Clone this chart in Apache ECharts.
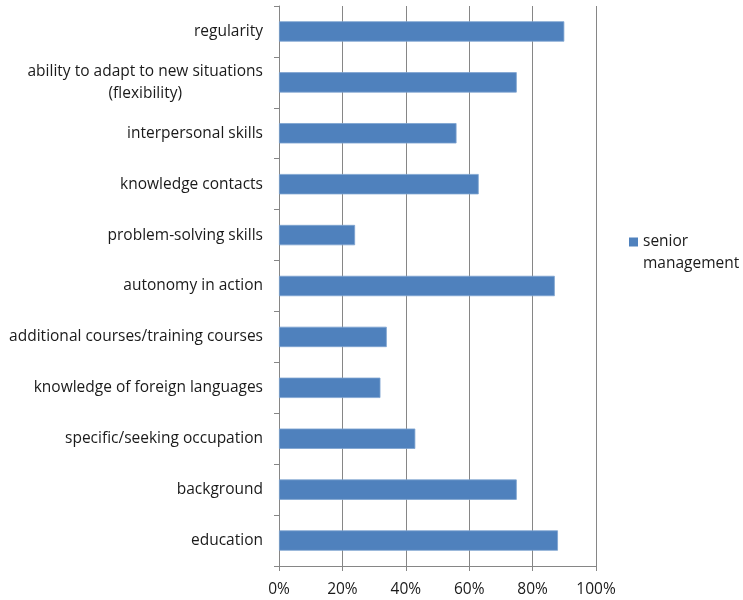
<!DOCTYPE html>
<html>
<head>
<meta charset="utf-8">
<script src="https://cdn.jsdelivr.net/npm/echarts@6/dist/echarts.min.js"></script>
<style>
  html, body { margin: 0; padding: 0; background: #fff; }
  #chart { width: 743px; height: 600px; }
</style>
</head>
<body>
<div id="chart"></div>
<script>
// Categories listed bottom to top (category axis starts at the bottom)
const categories = [
  'education',
  'background',
  'specific/seeking occupation',
  'knowledge of foreign languages',
  'additional courses/training courses',
  'autonomy in action',
  'problem-solving skills',
  'knowledge contacts',
  'interpersonal skills',
  'ability to adapt to new situations\n(flexibility)',
  'regularity'
];
const seniorManagement = [88, 75, 43, 32, 34, 87, 24, 63, 56, 75, 90];
const seriesName = 'senior management';
const xTicks = { min: 0, max: 100, interval: 20 };

const FONT = '"Open Sans", Lato, sans-serif';
const TEXT = '#1a1a1a';
const FS = 15.5;
const chart = echarts.init(document.getElementById('chart'));
chart.setOption({
  animation: false,
  textStyle: { fontFamily: FONT },
  grid: { left: 279, right: 147, top: 6, bottom: 34, containLabel: false },
  legend: {
    data: [seriesName],
    left: 629, top: 209, padding: 0,
    itemWidth: 9, itemHeight: 9,
    icon: 'rect',
    itemStyle: { borderWidth: 0 },
    // a blank first line keeps the swatch level with "senior"
    formatter: name => '{s| }\n{s|senior}\n{s|management}',
    textStyle: {
      fontFamily: FONT, fontSize: FS, color: TEXT, lineHeight: 22,
      rich: { s: { fontFamily: FONT, fontSize: FS, color: TEXT, lineHeight: 22 } }
    }
  },
  xAxis: {
    type: 'value',
    min: xTicks.min, max: xTicks.max, interval: xTicks.interval,
    axisLine: { show: true, lineStyle: { color: '#868686' } },
    axisTick: { show: true, length: 5, lineStyle: { color: '#868686' } },
    splitLine: { show: true, lineStyle: { color: '#868686', width: 1 } },
    axisLabel: {
      formatter: v => v + '%',
      fontFamily: FONT, fontSize: FS, color: TEXT, margin: 16
    }
  },
  yAxis: {
    type: 'category',
    data: categories,
    axisLine: { show: true, lineStyle: { color: '#868686' } },
    axisTick: { show: true, length: 5, alignWithLabel: false, lineStyle: { color: '#868686' } },
    axisLabel: {
      fontFamily: FONT, fontSize: FS, color: TEXT, margin: 16, lineHeight: 22,
      formatter: v => v.split('\n').map(s => '{c|' + s + '}').join('\n'),
      rich: { c: { align: 'center', fontFamily: FONT, fontSize: FS, color: TEXT, lineHeight: 22 } }
    }
  },
  series: [{
    name: seriesName,
    type: 'bar',
    data: seniorManagement,
    barCategoryGap: '60%',
    itemStyle: { color: '#4F81BD', borderColor: '#7DA3D1', borderWidth: 0.8 }
  }]
});
</script>
</body>
</html>
